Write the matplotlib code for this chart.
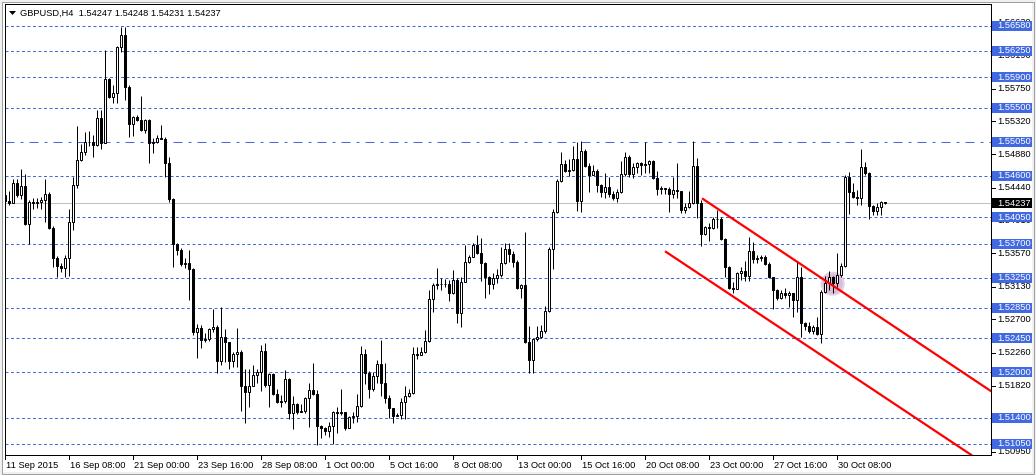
import matplotlib
matplotlib.use("Agg")
import matplotlib.pyplot as plt
import numpy as np
from matplotlib.patches import Rectangle, Polygon, Ellipse
from matplotlib.transforms import blended_transform_factory

plt.rcParams['font.family'] = ['Liberation Sans', 'DejaVu Sans']
plt.rcParams['lines.scale_dashes'] = False

# ---------------- data ----------------
symbol = "GBPUSD,H4"
first_open = 1.5434
closes = [
    1.5426, 1.5424, 1.5450, 1.5434, 1.5446, 1.5396, 1.5425, 1.5424, 1.5425, 1.5428,
    1.5436, 1.5391, 1.5351, 1.5341, 1.5338, 1.5351, 1.5399, 1.5448, 1.5481, 1.5491,
    1.5505, 1.5504, 1.5501, 1.5536, 1.5503, 1.5588, 1.5564, 1.5569, 1.5630, 1.5646,
    1.5577, 1.5528, 1.5538, 1.5534, 1.5520, 1.5534, 1.5503, 1.5505, 1.5510, 1.5509,
    1.5477, 1.5429, 1.5370, 1.5362, 1.5343, 1.5344, 1.5337, 1.5253, 1.5258, 1.5243,
    1.5244, 1.5257, 1.5260, 1.5215, 1.5246, 1.5240, 1.5215, 1.5224, 1.5227, 1.5182,
    1.5174, 1.5182, 1.5196, 1.5200, 1.5228, 1.5183, 1.5198, 1.5171, 1.5160, 1.5162,
    1.5191, 1.5146, 1.5158, 1.5147, 1.5149, 1.5166, 1.5176, 1.5171, 1.5129, 1.5126,
    1.5122, 1.5129, 1.5147, 1.5146, 1.5147, 1.5126, 1.5141, 1.5142, 1.5155, 1.5224,
    1.5199, 1.5178, 1.5195, 1.5211, 1.5186, 1.5166, 1.5153, 1.5142, 1.5143, 1.5160,
    1.5168, 1.5172, 1.5224, 1.5223, 1.5227, 1.5241, 1.5297, 1.5315, 1.5317, 1.5316,
    1.5317, 1.5305, 1.5322, 1.5278, 1.5319, 1.5346, 1.5352, 1.5368, 1.5358, 1.5344,
    1.5326, 1.5317, 1.5325, 1.5329, 1.5344, 1.5363, 1.5356, 1.5346, 1.5311, 1.5315,
    1.5240, 1.5216, 1.5244, 1.5246, 1.5254, 1.5281, 1.5363, 1.5412, 1.5453, 1.5475,
    1.5466, 1.5467, 1.5482, 1.5426, 1.5493, 1.5473, 1.5461, 1.5466, 1.5448, 1.5438,
    1.5445, 1.5436, 1.5430, 1.5438, 1.5462, 1.5485, 1.5462, 1.5471, 1.5477, 1.5474,
    1.5475, 1.5479, 1.5457, 1.5442, 1.5444, 1.5442, 1.5436, 1.5441, 1.5440, 1.5415,
    1.5419, 1.5424, 1.5473, 1.5424, 1.5383, 1.5392, 1.5391, 1.5403, 1.5402, 1.5376,
    1.5339, 1.5311, 1.5310, 1.5331, 1.5334, 1.5327, 1.5360, 1.5350, 1.5351, 1.5352,
    1.5343, 1.5326, 1.5309, 1.5298, 1.5305, 1.5302, 1.5305, 1.5296, 1.5326, 1.5265,
    1.5261, 1.5254, 1.5260, 1.5250, 1.5306, 1.5318, 1.5326, 1.5318, 1.5329, 1.5341,
    1.5458, 1.5438, 1.5432, 1.5430, 1.5471, 1.5464, 1.5420, 1.5413, 1.5419, 1.54247,
    1.54237]
highs = [
    1.5437, 1.5440, 1.5456, 1.5456, 1.5469, 1.5462, 1.5428, 1.5430, 1.5430, 1.5432,
    1.5456, 1.5438, 1.5393, 1.5354, 1.5344, 1.5355, 1.5416, 1.5458, 1.5526, 1.5502,
    1.5518, 1.5519, 1.5514, 1.5547, 1.5547, 1.5626, 1.5589, 1.5580, 1.5632, 1.5657,
    1.5657, 1.5580, 1.5539, 1.5540, 1.5565, 1.5535, 1.5535, 1.5510, 1.5514, 1.5527,
    1.5511, 1.5485, 1.5430, 1.5371, 1.5364, 1.5351, 1.5362, 1.5338, 1.5264, 1.5262,
    1.5252, 1.5258, 1.5284, 1.5262, 1.5286, 1.5257, 1.5240, 1.5227, 1.5258, 1.5229,
    1.5204, 1.5204, 1.5210, 1.5204, 1.5236, 1.5238, 1.5199, 1.5199, 1.5178, 1.5170,
    1.5203, 1.5192, 1.5168, 1.5159, 1.5158, 1.5167, 1.5186, 1.5212, 1.5176, 1.5130,
    1.5128, 1.5134, 1.5149, 1.5154, 1.5178, 1.5147, 1.5142, 1.5147, 1.5171, 1.5235,
    1.5231, 1.5202, 1.5200, 1.5216, 1.5243, 1.5212, 1.5170, 1.5153, 1.5146, 1.5166,
    1.5182, 1.5178, 1.5233, 1.5233, 1.5233, 1.5256, 1.5309, 1.5318, 1.5338, 1.5325,
    1.5323, 1.5322, 1.5335, 1.5325, 1.5326, 1.5368, 1.5355, 1.5371, 1.5382, 1.5378,
    1.5346, 1.5327, 1.5331, 1.5337, 1.5366, 1.5371, 1.5371, 1.5360, 1.5348, 1.5317,
    1.5386, 1.5261, 1.5245, 1.5261, 1.5262, 1.5288, 1.5366, 1.5416, 1.5456, 1.5491,
    1.5481, 1.5482, 1.5499, 1.5505, 1.5506, 1.5495, 1.5477, 1.5474, 1.5469, 1.5449,
    1.5464, 1.5458, 1.5440, 1.5442, 1.5479, 1.5491, 1.5487, 1.5477, 1.5478, 1.5478,
    1.5505, 1.5481, 1.5481, 1.5466, 1.5446, 1.5444, 1.5445, 1.5458, 1.5477, 1.5438,
    1.5424, 1.5440, 1.5506, 1.5483, 1.5428, 1.5393, 1.5397, 1.5405, 1.5415, 1.5405,
    1.5378, 1.5341, 1.5319, 1.5333, 1.5339, 1.5347, 1.5379, 1.5372, 1.5355, 1.5355,
    1.5355, 1.5346, 1.5326, 1.5310, 1.5309, 1.5311, 1.5307, 1.5305, 1.5346, 1.5339,
    1.5266, 1.5266, 1.5262, 1.5273, 1.5309, 1.5327, 1.5334, 1.5327, 1.5358, 1.5344,
    1.5461, 1.5465, 1.5450, 1.5441, 1.5495, 1.5478, 1.5465, 1.5421, 1.5424, 1.5426,
    1.54248]
lows = [
    1.5396, 1.5421, 1.5425, 1.5432, 1.5429, 1.5395, 1.5370, 1.5416, 1.5417, 1.5416,
    1.5399, 1.5389, 1.5339, 1.5326, 1.5333, 1.5326, 1.5327, 1.5388, 1.5444, 1.5479,
    1.5487, 1.5499, 1.5485, 1.5499, 1.5495, 1.5514, 1.5563, 1.5556, 1.5556, 1.5624,
    1.5560, 1.5511, 1.5512, 1.5532, 1.5519, 1.5516, 1.5477, 1.5490, 1.5503, 1.5508,
    1.5458, 1.5425, 1.5339, 1.5355, 1.5341, 1.5338, 1.5296, 1.5249, 1.5219, 1.5232,
    1.5240, 1.5241, 1.5253, 1.5199, 1.5210, 1.5213, 1.5204, 1.5207, 1.5207, 1.5149,
    1.5133, 1.5154, 1.5183, 1.5186, 1.5175, 1.5180, 1.5154, 1.5170, 1.5159, 1.5154,
    1.5159, 1.5138, 1.5125, 1.5145, 1.5147, 1.5146, 1.5128, 1.5170, 1.5104, 1.5113,
    1.5117, 1.5114, 1.5105, 1.5120, 1.5143, 1.5124, 1.5126, 1.5133, 1.5134, 1.5154,
    1.5184, 1.5166, 1.5175, 1.5186, 1.5168, 1.5159, 1.5139, 1.5133, 1.5142, 1.5138,
    1.5138, 1.5167, 1.5171, 1.5218, 1.5223, 1.5225, 1.5240, 1.5280, 1.5310, 1.5309,
    1.5313, 1.5294, 1.5303, 1.5265, 1.5260, 1.5319, 1.5344, 1.5352, 1.5356, 1.5321,
    1.5298, 1.5303, 1.5310, 1.5318, 1.5326, 1.5343, 1.5346, 1.5339, 1.5310, 1.5298,
    1.5238, 1.5199, 1.5199, 1.5241, 1.5245, 1.5252, 1.5280, 1.5337, 1.5411, 1.5452,
    1.5465, 1.5460, 1.5466, 1.5413, 1.5412, 1.5471, 1.5438, 1.5461, 1.5438, 1.5432,
    1.5430, 1.5432, 1.5428, 1.5425, 1.5437, 1.5460, 1.5458, 1.5457, 1.5464, 1.5461,
    1.5464, 1.5464, 1.5456, 1.5434, 1.5436, 1.5436, 1.5412, 1.5430, 1.5430, 1.5411,
    1.5411, 1.5417, 1.5423, 1.5404, 1.5367, 1.5382, 1.5374, 1.5389, 1.5391, 1.5375,
    1.5326, 1.5310, 1.5305, 1.5311, 1.5322, 1.5321, 1.5321, 1.5344, 1.5344, 1.5347,
    1.5342, 1.5325, 1.5284, 1.5296, 1.5297, 1.5298, 1.5286, 1.5273, 1.5280, 1.5246,
    1.5256, 1.5252, 1.5250, 1.5249, 1.5238, 1.5305, 1.5309, 1.5305, 1.5313, 1.5326,
    1.5339, 1.5409, 1.5430, 1.5421, 1.5421, 1.5461, 1.5403, 1.5408, 1.5408, 1.5408,
    1.54231]
header_ohlc = ["1.54247", "1.54248", "1.54231", "1.54237"]
current_price = 1.54237

levels = [1.56580, 1.56250, 1.55900, 1.55500, 1.55050, 1.54600, 1.54050,
          1.53700, 1.53250, 1.52850, 1.52450, 1.52000, 1.51400, 1.51050]
dashdot_levels = [1.55050]
price_ticks = [1.56630, 1.56190, 1.55750, 1.55320, 1.54880, 1.54440, 1.54010,
               1.53570, 1.53130, 1.52700, 1.52260, 1.51820, 1.51380, 1.50950]
date_labels = ["11 Sep 2015", "16 Sep 08:00", "21 Sep 00:00", "23 Sep 16:00",
               "28 Sep 08:00", "1 Oct 00:00", "5 Oct 16:00", "8 Oct 08:00",
               "13 Oct 00:00", "15 Oct 16:00", "20 Oct 08:00", "23 Oct 00:00",
               "27 Oct 16:00", "30 Oct 08:00"]
bars_per_label = 16
trend_upper = [(174.25, 1.5430), (246.75, 1.5174)]
trend_lower = [(165.0, 1.5360), (240.0, 1.5096)]
marker_center = (206.9, 1.5317)
price_min, price_max = 1.50904, 1.56871

# ---------------- figure ----------------
W, H = 1036, 475
PT = 0.72  # points per pixel at dpi 100
fig = plt.figure(figsize=(W / 100, H / 100), dpi=100)
fig.patch.set_facecolor('#f0f0f0')
fig.add_artist(Rectangle((3 / W, 3 / H), 1029 / W, 469 / H, transform=fig.transFigure,
                         facecolor='white', edgecolor='none', zorder=-10))
fig.add_artist(Rectangle((1.5 / W, 1.5 / H), 1032 / W, 472 / H, transform=fig.transFigure,
                         facecolor='none', edgecolor='#a0a0a0', linewidth=PT, zorder=-9))

L, R, T, B = 5, 991, 4, 455
ax = fig.add_axes([L / W, (H - B) / H, (R - L) / W, (B - T) / H])
ax.set_facecolor('white')
ax.set_xlim(0, (R - L) / 4)
ax.set_ylim(price_min, price_max)
for s in ax.spines.values():
    s.set_color('black')
    s.set_linewidth(PT)
ax.set_xticks([])
ax.set_yticks([])
dp = (price_max - price_min) / (B - T)   # price per pixel
dbar = 0.25                                # bars per pixel

# level lines
blue = '#4169e1'
for lv in levels:
    if lv in dashdot_levels:
        ls = (0, (9 * PT, 6 * PT, 3 * PT, 6 * PT))
    else:
        ls = (0, (3 * PT, 2.5 * PT))
    ax.axhline(lv, color=blue, lw=PT, ls=ls, zorder=1)
ax.axhline(current_price, color='#c0c0c0', lw=PT, zorder=1)

# candles
n = len(closes)
x = np.arange(n)
c = np.array(closes)
o = np.r_[first_open, c[:-1]]
hi = np.maximum(np.array(highs), np.maximum(o, c))
lo = np.minimum(np.array(lows), np.minimum(o, c))
ax.vlines(x, lo, hi, color='black', lw=PT, zorder=3)
bull = c > o
bottom = np.minimum(o, c)
height = np.maximum(np.abs(c - o), 0.2 * dp)
ax.bar(x[bull], height[bull], bottom=bottom[bull], width=0.5, color='white',
       edgecolor='black', linewidth=PT, zorder=4)
ax.bar(x[~bull], height[~bull], bottom=bottom[~bull], width=0.5, color='black',
       edgecolor='black', linewidth=PT, zorder=4)

# marker circle
ax.add_patch(Ellipse(marker_center, width=22 * dbar, height=22 * dp,
                     facecolor='#d8bcd8', edgecolor='#e4cfe4', lw=1.5, zorder=2.5))

# trend lines (rays to the right)
for (x0, y0), (x1, y1) in (trend_upper, trend_lower):
    slope = (y1 - y0) / (x1 - x0)
    xe = 300
    ax.plot([x0, xe], [y0, y0 + slope * (xe - x0)], color='#ff0000', lw=1.6,
            zorder=6, solid_capstyle='butt')

# right price scale
trans_r = blended_transform_factory(ax.transAxes, ax.transData)
def axx(px):
    return (px - L) / (R - L)
fs = 6.7
for v in price_ticks:
    ax.plot([axx(R), axx(R + 3.5)], [v, v], transform=trans_r, color='black',
            lw=PT, clip_on=False, zorder=5)
    ax.text(axx(997), v, f"{v:.5f}", transform=trans_r, ha='left', va='center',
            fontsize=fs, color='black', clip_on=False, zorder=5)
for lv in levels:
    ax.add_patch(Rectangle((axx(992.5), lv - 5 * dp), axx(1032) - axx(992.5), 10 * dp,
                           transform=trans_r, facecolor=blue, edgecolor='none',
                           clip_on=False, zorder=6))
    ax.text(axx(997), lv, f"{lv:.5f}", transform=trans_r, ha='left', va='center',
            fontsize=fs, color='white', clip_on=False, zorder=7)
ax.add_patch(Rectangle((axx(992.5), current_price - 5 * dp), axx(1032) - axx(992.5), 10 * dp,
                       transform=trans_r, facecolor='black', edgecolor='none',
                       clip_on=False, zorder=6))
ax.text(axx(997), current_price, f"{current_price:.5f}", transform=trans_r, ha='left',
        va='center', fontsize=fs, color='white', clip_on=False, zorder=7)

# bottom time scale
trans_b = blended_transform_factory(ax.transData, ax.transAxes)
for k, lab in enumerate(date_labels):
    xb = k * bars_per_label
    ax.plot([xb, xb], [0, -4 / (B - T)], transform=trans_b, color='black', lw=PT,
            clip_on=False, zorder=5)
    ax.text(xb + 1.5 * dbar, -10.5 / (B - T), lab, transform=trans_b, ha='left',
            va='center', fontsize=fs, color='black', clip_on=False, zorder=5)

# header
fig.add_artist(Polygon([(9 / W, (H - 11) / H), (16 / W, (H - 11) / H), (12.5 / W, (H - 15) / H)],
                       closed=True, transform=fig.transFigure, facecolor='black',
                       edgecolor='none'))
fig.text(20.5 / W, (H - 13) / H, symbol + "  " + " ".join(header_ohlc), ha='left',
         va='center', fontsize=fs, color='black')

fig.savefig("out.png", dpi=100, facecolor=fig.get_facecolor())
